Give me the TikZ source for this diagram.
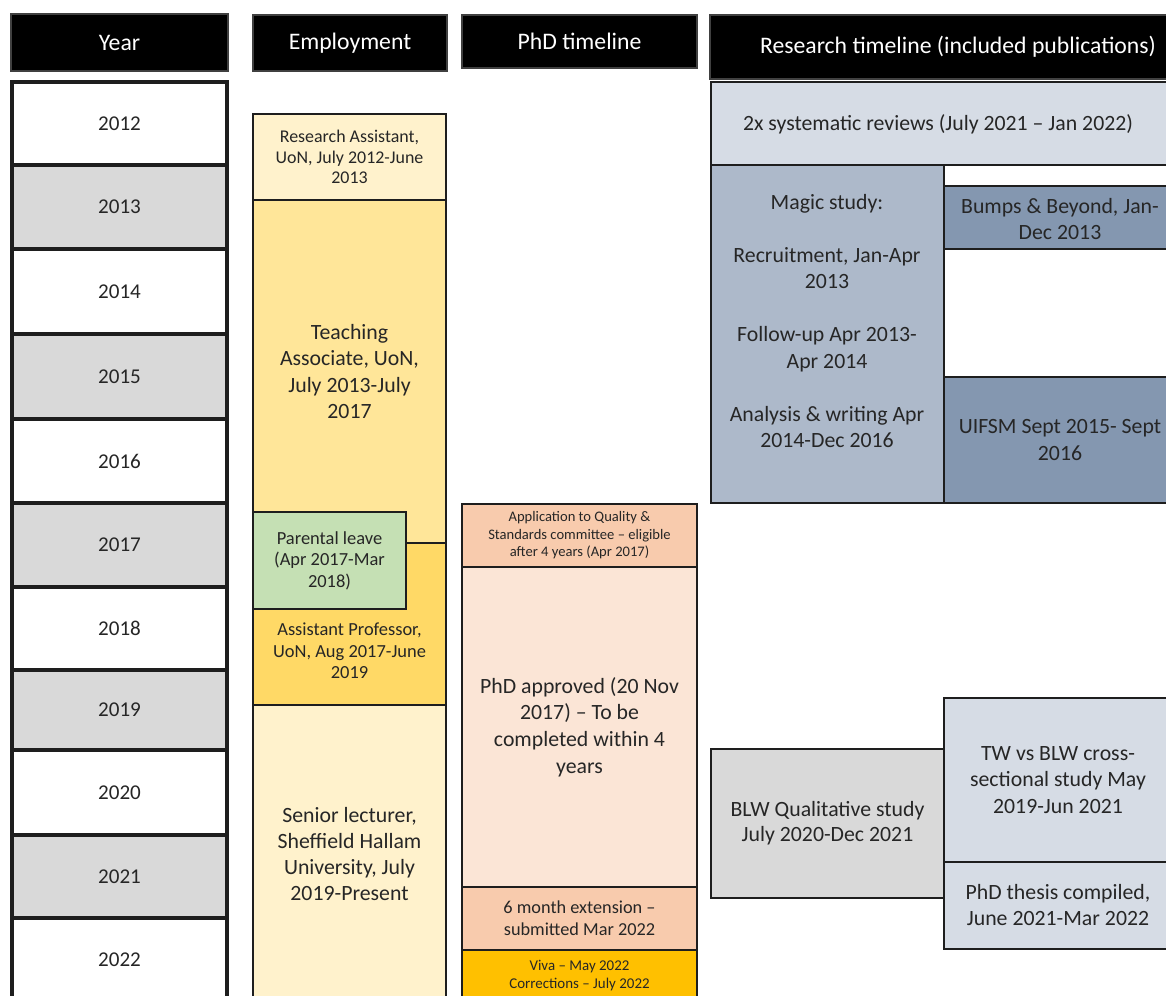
\documentclass[tikz,border=0pt]{standalone}
\usepackage{fontspec}
\setmainfont{Carlito}
\definecolor{lineC}{HTML}{1E1E1E}
\definecolor{txtC}{HTML}{262626}
\definecolor{yrGray}{HTML}{D9D9D9}
\definecolor{cream}{HTML}{FFF2CC}
\definecolor{yellowA}{HTML}{FFE699}
\definecolor{yellowB}{HTML}{FFD966}
\definecolor{greenA}{HTML}{C5E0B4}
\definecolor{peachA}{HTML}{F8CBAD}
\definecolor{peachB}{HTML}{FBE5D6}
\definecolor{goldA}{HTML}{FFC000}
\definecolor{blueA}{HTML}{D6DCE5}
\definecolor{blueB}{HTML}{ADB9CA}
\definecolor{blueC}{HTML}{8497B0}
\newcommand\cell[7]{\node[#6, minimum width={(#4-#2)*0.02cm}, minimum height={(#5-#3)*0.02cm}] (#1) at ({(#2+#4)/2},{(#3+#5)/2}) {#7};}
\newcommand\fs[2]{\fontsize{#1}{#2}\selectfont}
\tikzset{
  hdr/.style={fill=black, draw=black!75, line width=0.6pt, text=white, inner sep=0pt, align=center, font=\fs{13.5}{16}},
  yr/.style={draw=lineC, line width=1.8pt, inner sep=0pt, text=txtC, font=\fs{12}{14}},
  cellb/.style={draw=lineC, line width=1.1pt, inner sep=0pt, align=center, text=txtC},
  txt/.style={inner sep=0pt, align=center, text=txtC}
}
\begin{document}
\begin{tikzpicture}[x=0.02cm,y=-0.02cm]
\useasboundingbox (0,0) rectangle (1166,995);
\clip (0,0) rectangle (1166,995);
\fill[white] (0,0) rectangle (1166,995);
% headers
\cell{hYear}{11}{14}{228}{71}{hdr}{Year}
\cell{hEmp}{253}{15}{447}{71}{hdr}{Employment}
\cell{hPhd}{462}{15}{697}{68}{hdr}{PhD timeline}
\cell{hRes}{710}{15}{1175}{79}{hdr}{}
\node[txt, text=white, font=\fs{13.5}{16}] (hResT) at (958,47) {Research timeline (included publications)};
% years
\cell{y2012}{12}{82}{227}{165}{yr,fill=white}{2012}
\cell{y2013}{12}{165}{227}{249}{yr,fill=yrGray}{2013}
\cell{y2014}{12}{249}{227}{334}{yr,fill=white}{2014}
\cell{y2015}{12}{334}{227}{419}{yr,fill=yrGray}{2015}
\cell{y2016}{12}{419}{227}{503}{yr,fill=white}{2016}
\cell{y2017}{12}{503}{227}{587}{yr,fill=yrGray}{2017}
\cell{y2018}{12}{587}{227}{670}{yr,fill=white}{2018}
\cell{y2019}{12}{670}{227}{750}{yr,fill=yrGray}{2019}
\cell{y2020}{12}{750}{227}{835}{yr,fill=white}{2020}
\cell{y2021}{12}{835}{227}{918}{yr,fill=yrGray}{2021}
\cell{y2022}{12}{918}{227}{1040}{yr,fill=white}{}
\node[txt, font=\fs{12}{14}] (y2022t) at (119.5,960) {2022};
% employment
\cell{eRA}{253}{114}{446}{200}{cellb,fill=cream,font=\fs{10.2}{11.6}}{Research Assistant,\\UoN, July 2012-June\\2013}
\cell{eTA}{253}{200}{446}{543}{cellb,fill=yellowA,font=\fs{12.4}{14.9}}{Teaching\\Associate, UoN,\\July 2013-July\\2017}
\cell{eAP}{253}{543}{446}{705}{cellb,fill=yellowB}{}
\node[txt, font=\fs{10.5}{12.2}] (eAPt) at (349.5,651) {Assistant Professor,\\UoN, Aug 2017-June\\2019};
\cell{ePL}{253}{512}{406}{609}{cellb,fill=greenA,font=\fs{10.5}{12.3}}{Parental leave\\(Apr 2017-Mar\\2018)}
\cell{eSL}{253}{705}{446}{1040}{cellb,fill=cream}{}
\node[txt, font=\fs{12.4}{14.9}] (eSLt) at (349.5,854) {Senior lecturer,\\Sheffield Hallam\\University, July\\2019-Present};
% PhD
\cell{pApp}{462}{504}{697}{567}{cellb,fill=peachA,font=\fs{8.3}{10}}{Application to Quality \&\\Standards committee -- eligible\\after 4 years (Apr 2017)}
\cell{pApr}{462}{567}{697}{887}{cellb,fill=peachB,font=\fs{12.4}{15.1}}{PhD approved (20 Nov\\2017) -- To be\\completed within 4\\years}
\cell{pExt}{462}{887}{697}{950}{cellb,fill=peachA,font=\fs{10.4}{12.6}}{6 month extension --\\submitted Mar 2022}
\cell{pViva}{462}{950}{697}{1040}{cellb,fill=goldA}{}
\node[txt, font=\fs{8.5}{10.2}] (pVivat) at (579.5,976) {Viva -- May 2022\\Corrections -- July 2022};
% research
\cell{rSys}{711}{82}{1172}{165}{cellb,fill=blueA}{}
\node[txt, font=\fs{12.4}{15.1}] (rSyst) at (938,124) {2x systematic reviews (July 2021 -- Jan 2022)};
\cell{rMag}{711}{165}{944}{503}{cellb,fill=blueB}{}
\node[txt, font=\fs{12.4}{15.1}] (rMagt) at (827,321) {Magic study:\\[15.1pt]Recruitment, Jan-Apr\\2013\\[15.1pt]Follow-up Apr 2013-\\Apr 2014\\[15.1pt]Analysis \& writing Apr\\2014-Dec 2016};
\cell{rBmp}{944}{186}{1172}{249}{cellb,fill=blueC}{}
\node[txt, font=\fs{12.4}{15.1}] (rBmpt) at (1060,219) {Bumps \& Beyond, Jan-\\Dec 2013};
\cell{rUif}{944}{377}{1172}{503}{cellb,fill=blueC}{}
\node[txt, font=\fs{12.4}{15.1}] (rUift) at (1060,440) {UIFSM Sept 2015- Sept\\2016};
\cell{rBlw}{711}{749}{944}{898}{cellb,fill=yrGray,font=\fs{12.4}{14.4}}{BLW Qualitative study\\July 2020-Dec 2021}
\cell{rTw}{944}{698}{1172}{862}{cellb,fill=blueA}{}
\node[txt, font=\fs{12.4}{15.1}] (rTwt) at (1058,780) {TW vs BLW cross-\\sectional study May\\2019-Jun 2021};
\cell{rTh}{944}{862}{1172}{949}{cellb,fill=blueA}{}
\node[txt, font=\fs{12.4}{14.4}] (rTht) at (1058,905) {PhD thesis compiled,\\June 2021-Mar 2022};
\end{tikzpicture}
\end{document}
